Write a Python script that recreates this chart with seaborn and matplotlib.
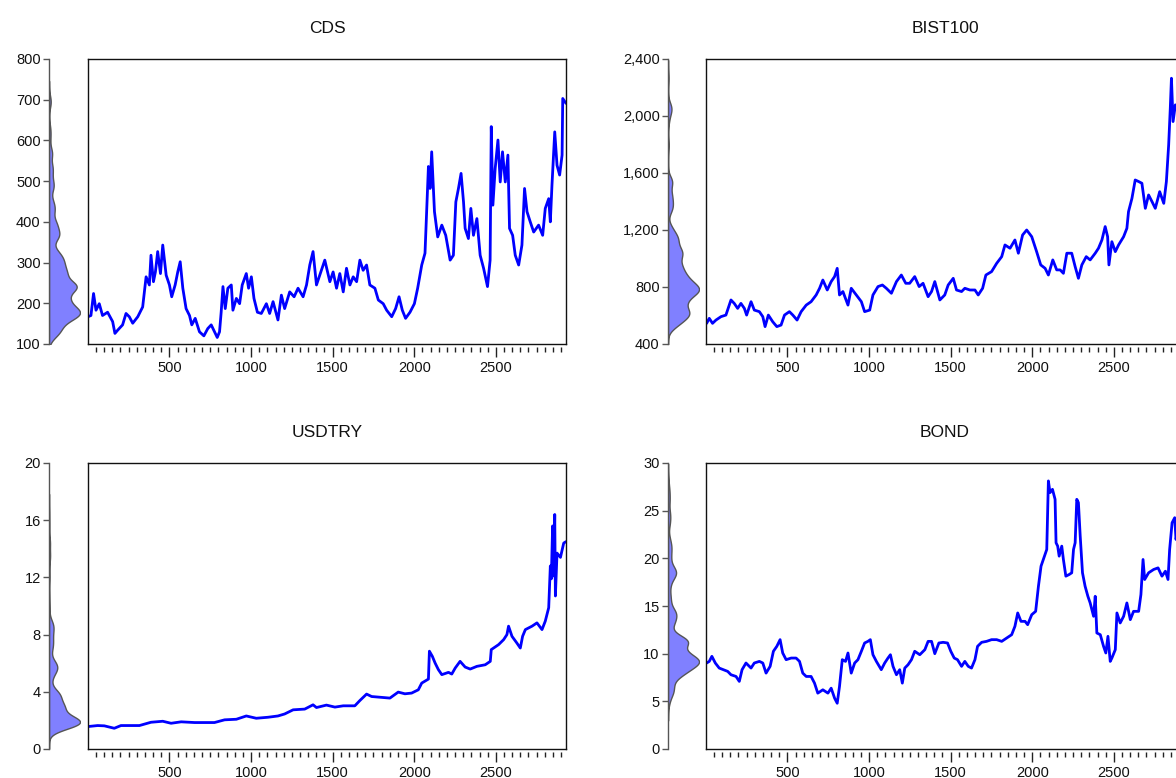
import numpy as np
import matplotlib
matplotlib.use("Agg")
import matplotlib.pyplot as plt
import seaborn as sns
from matplotlib.ticker import MultipleLocator, StrMethodFormatter

sns.set_theme(style="white")
plt.rcParams["font.family"] = ["Liberation Sans", "DejaVu Sans"]

# ---------------- data (observation index, value) ----------------
cds_obs = [1, 19, 35, 50, 70, 90, 121, 152, 166, 183, 213, 234, 254, 275, 306, 336, 357, 377, 387, 402,
           414, 428, 445, 459, 480, 500, 514, 535, 551, 566, 582, 602, 623, 637, 658, 684, 711, 735, 756, 776,
           793, 807, 817, 828, 842, 858, 879, 889, 910, 930, 946, 971, 985, 1002, 1018, 1039, 1063, 1094, 1114, 1135,
           1165, 1186, 1206, 1237, 1264, 1288, 1319, 1340, 1360, 1380, 1401, 1421,
           1452, 1483, 1503, 1524, 1544, 1565, 1585, 1606, 1626, 1647, 1667, 1687, 1708, 1728, 1759, 1780, 1810, 1831,
           1862, 1886, 1907, 1927, 1947, 1974, 2001, 2021, 2046, 2066, 2087, 2097, 2107, 2124, 2144, 2169, 2193, 2220,
           2240, 2255, 2271, 2287, 2302, 2312, 2332, 2347, 2363, 2384, 2404, 2425, 2449, 2465, 2472, 2482, 2496, 2513,
           2527, 2541, 2558, 2574, 2584, 2603, 2619, 2640, 2660, 2676, 2691, 2711, 2732, 2762, 2787, 2803, 2824, 2834,
           2844, 2861, 2875, 2891, 2906, 2910, 2930]
cds_val = [167, 170, 224, 183, 199, 170, 178, 155, 126, 134, 147, 175, 167, 151, 167, 191, 265, 245, 318, 253,
           277, 327, 273, 343, 269, 245, 216, 245, 277, 302, 237, 187, 170, 147, 163, 130, 120, 138, 147, 130,
           116, 130, 178, 241, 187, 237, 245, 183, 212, 199, 245, 273, 237, 265, 212, 178, 175, 199, 175, 204,
           159, 220, 187, 228, 216, 237, 216, 245, 294, 327, 245, 269,
           306, 253, 277, 237, 273, 228, 286, 245, 265, 253, 306, 281, 294, 245, 237, 208, 199, 183,
           167, 187, 216, 183, 163, 178, 199, 237, 294, 323, 536, 482, 572, 425, 363, 392, 367, 306,
           318, 449, 482, 519, 449, 384, 359, 433, 367, 408, 318, 286, 241, 306, 634, 441, 531, 601,
           498, 572, 498, 564, 384, 367, 318, 294, 343, 482, 425, 400, 375, 392, 367, 433, 457, 400,
           490, 621, 539, 515, 564, 703, 691]

bist_obs = [5, 21, 41, 62, 93, 123, 154, 174, 195, 215, 236, 250, 277, 297, 328, 349, 363, 383, 410, 435,
            461, 482, 512, 533, 559, 584, 615, 645, 676, 697, 717, 744, 768, 789, 805, 819, 840, 871, 891, 922,
            953, 973, 1004, 1024, 1055, 1082, 1106, 1137, 1168, 1198, 1225, 1249, 1280, 1307, 1331, 1362, 1383, 1403,
            1434, 1464, 1485, 1516, 1536, 1567, 1587, 1618, 1649, 1669, 1696, 1716, 1751, 1782, 1813, 1833, 1864,
            1894, 1915, 1941, 1966, 1997, 2027, 2052, 2079, 2099, 2126, 2150, 2171, 2191, 2212, 2242, 2263, 2283,
            2304, 2331, 2355, 2386, 2406, 2427, 2447, 2462, 2470, 2488, 2509, 2529, 2560, 2580, 2590, 2611, 2631,
            2652, 2672, 2693, 2713, 2734, 2754, 2781, 2806, 2822, 2836, 2846, 2853, 2863, 2877, 2895, 2910, 2930]
bist_val = [545, 580, 545, 568, 592, 603, 709, 685, 650, 685, 650, 603, 697, 638, 627, 592, 522, 603, 556, 522,
            533, 603, 627, 603, 568, 627, 673, 697, 744, 791, 849, 779, 838, 873, 931, 744, 768, 673, 791, 744,
            697, 627, 638, 744, 803, 814, 791, 756, 838, 884, 826, 826, 873, 803, 826, 732, 768, 838,
            709, 744, 814, 861, 779, 768, 791, 779, 779, 744, 791, 884, 908, 966, 1013, 1095, 1072,
            1130, 1037, 1165, 1200, 1153, 1048, 955, 931, 884, 990, 920, 920, 896, 1037, 1037, 943, 861,
            955, 1013, 990, 1037, 1072, 1130, 1224, 1153, 955, 1118, 1048, 1095, 1153, 1212, 1329, 1422, 1551,
            1540, 1528, 1352, 1446, 1399, 1352, 1469, 1387, 1540, 1797, 2055, 2265, 1961, 2078, 2010, 2060, 2040]

usd_obs = [1, 60, 101, 162, 203, 316, 387, 459, 510, 572, 654, 776, 838, 910, 971, 1032, 1104, 1165, 1206, 1258,
           1329, 1380, 1401, 1462, 1514, 1565, 1636, 1667, 1708, 1739, 1780, 1851, 1902, 1943, 1984, 2025, 2046, 2087,
           2093, 2111, 2128, 2148, 2169, 2210, 2230, 2251, 2281, 2312, 2343, 2384, 2435, 2466, 2472, 2517, 2548,
           2568, 2578, 2599, 2629, 2650, 2664, 2681, 2722, 2752, 2783, 2803, 2824, 2834, 2840, 2848, 2855, 2861,
           2865, 2875, 2896, 2916, 2930]
usd_val = [1.57, 1.64, 1.62, 1.45, 1.64, 1.64, 1.87, 1.94, 1.80, 1.90, 1.85, 1.85, 2.04, 2.08, 2.31, 2.15, 2.22,
           2.31, 2.45, 2.74, 2.79, 3.09, 2.90, 3.07, 2.93, 3.02, 3.02, 3.39, 3.84, 3.67, 3.63, 3.56, 3.98, 3.86,
           3.91, 4.14, 4.61, 4.89, 6.84, 6.48, 6.01, 5.55, 5.20, 5.36, 5.24, 5.66, 6.13, 5.73, 5.59, 5.78, 5.89,
           6.13, 6.95, 7.30, 7.65, 8.00, 8.59, 7.88, 7.41, 7.06, 7.88, 8.35, 8.59, 8.82, 8.35, 8.94, 9.88, 12.8,
           11.9, 15.6, 12.1, 16.4, 10.7, 13.7, 13.4, 14.4, 14.5]

bond_obs = [5, 21, 37, 58, 82, 107, 134, 154, 185, 205, 222, 246, 277, 297, 328, 349, 369, 394, 414, 435,
            455, 471, 492, 523, 553, 574, 594, 615, 645, 666, 686, 717, 748, 768, 789, 805, 819, 836, 856, 871,
            891, 912, 932, 953, 973, 993, 1008, 1024, 1045, 1075, 1096, 1116, 1131, 1147, 1168, 1188, 1204, 1219,
            1239, 1260, 1280, 1311, 1342, 1362, 1383, 1403, 1428, 1454, 1481, 1501, 1522, 1542, 1567, 1587, 1608,
            1628, 1649, 1665, 1690, 1720, 1751, 1782, 1813, 1843, 1874, 1894, 1911, 1931, 1956, 1972, 1997, 2021,
            2038, 2054, 2075, 2089, 2099, 2109, 2124, 2140, 2146, 2156, 2165, 2181, 2191, 2206, 2226, 2242, 2253,
            2263, 2273, 2283, 2294, 2308, 2324, 2341, 2355, 2376, 2386, 2396, 2417, 2437, 2451, 2464, 2478, 2488,
            2509, 2519, 2539, 2560, 2580, 2601, 2621, 2652, 2666, 2679, 2689, 2713, 2744, 2771, 2795, 2816, 2832,
            2842, 2857, 2873, 2881, 2895, 2910, 2930]
bond_val = [9.02, 9.19, 9.72, 9.02, 8.49, 8.32, 8.14, 7.79, 7.61, 7.09, 8.32, 9.02, 8.49, 9.02, 9.19, 9.02, 7.96,
            8.67, 10.25, 10.77, 11.47, 10.07, 9.37, 9.54, 9.54, 9.19, 7.96, 7.61, 7.61, 6.91, 5.86, 6.21, 5.86,
            6.38, 5.33, 4.80, 6.56, 9.37, 9.19, 10.07, 7.96, 9.02, 9.37, 10.25, 11.12, 11.29, 11.47, 9.89, 9.19,
            8.32, 9.02, 9.54, 9.89, 8.67, 7.79, 8.32, 6.91, 8.49, 8.84, 9.37, 10.25, 9.89, 10.42, 11.29, 11.29,
            10.0, 11.12, 11.19, 11.12, 10.25, 9.54, 9.37, 8.67, 9.19, 8.67, 8.49, 9.37, 10.77, 11.19, 11.29, 11.47,
            11.47, 11.29, 11.64, 11.99, 12.87, 14.27, 13.39, 13.39, 13.04, 14.09, 14.44, 17.07, 19.18, 20.23, 20.93,
            28.12, 26.89, 27.24, 26.19, 21.63, 21.28, 20.23, 21.28, 19.88, 18.13, 18.30, 18.48, 20.93, 21.63, 26.19,
            25.84, 22.33, 18.48, 17.07, 16.02, 15.32, 13.92, 16.02, 12.17, 11.99, 10.77, 10.07, 11.82, 9.19, 9.54,
            10.42, 14.27, 13.22, 13.92, 15.32, 13.57, 14.44, 14.44, 16.20, 19.88, 17.78, 18.48, 18.83, 19.00, 18.13,
            18.65, 17.78, 20.93, 23.73, 24.26, 21.98, 23.5, 25.0, 24.5]

titles = ["CDS", "BIST100", "USDTRY", "BOND"]
series_obs = [cds_obs, bist_obs, usd_obs, bond_obs]
series_val = [cds_val, bist_val, usd_val, bond_val]
y_limits = [(100, 800), (400, 2400), (0, 20), (0, 30)]
y_steps = [100, 400, 4, 5]

# ---------------- layout (pixels) ----------------
W, H = 1176, 778
main_boxes = [(88, 59, 478, 285), (706, 59, 478, 285), (88, 463, 478, 286), (706, 463, 478, 286)]
dens_left = [49, 668, 49, 668]
dens_width = 31

fig = plt.figure(figsize=(W / 100, H / 100), dpi=100)
fig.patch.set_facecolor("white")

for i in range(4):
    x0, y0, w, h = main_boxes[i]
    rect = [x0 / W, 1 - (y0 + h) / H, w / W, h / H]
    ax = fig.add_axes(rect)
    obs = np.array(series_obs[i], dtype=float)
    val = np.array(series_val[i], dtype=float)
    sns.lineplot(x=obs, y=val, ax=ax, color="#0000ff", linewidth=2.0, estimator=None, sort=False)
    ax.set_xlim(1, 2930)
    ax.set_ylim(*y_limits[i])
    ax.set_xlabel("")
    ax.set_ylabel("")
    ax.tick_params(bottom=False, left=False, labelbottom=False, labelleft=False)
    for s in ax.spines.values():
        s.set_visible(True)
        s.set_color("#111111")
        s.set_linewidth(1.0)
    ax.set_title(titles[i], fontsize=12.5, pad=19, color="#111111")

    sec = ax.secondary_xaxis(-3 / h)
    for s in sec.spines.values():
        s.set_visible(False)
    sec.set_xticks([500, 1000, 1500, 2000, 2500])
    sec.xaxis.set_minor_locator(MultipleLocator(50))
    sec.tick_params(which="both", bottom=True, direction="out", color="#222222", width=1.0)
    sec.tick_params(which="major", length=7, labelsize=10.5, pad=3, labelcolor="#111111")
    sec.tick_params(which="minor", length=3.5)

    # density panel
    drect = [dens_left[i] / W, 1 - (y0 + h) / H, dens_width / W, h / H]
    dax = fig.add_axes(drect)
    dax.patch.set_alpha(0)
    wts = np.gradient(obs)
    sns.kdeplot(y=val, weights=wts, ax=dax, fill=True, color="#8080ff", alpha=1.0,
                edgecolor="#555555", linewidth=1.0, bw_adjust=0.3, cut=3, gridsize=400)
    verts = np.concatenate([p.vertices for c in dax.collections for p in c.get_paths()])
    dax.set_xlim(0, verts[:, 0].max())
    dax.set_ylim(*y_limits[i])
    dax.set_xlabel("")
    dax.set_ylabel("")
    for side in ["top", "right", "bottom"]:
        dax.spines[side].set_visible(False)
    dax.spines["left"].set_color("#555555")
    dax.spines["left"].set_linewidth(1.0)
    dax.set_xticks([])
    lo, hi = y_limits[i]
    dax.set_yticks(np.arange(lo, hi + 1e-9, y_steps[i]))
    dax.yaxis.set_major_formatter(StrMethodFormatter("{x:,.0f}"))
    dax.tick_params(axis="y", left=True, direction="out", length=4, width=1.0, color="#555555",
                    labelsize=10.5, pad=2, labelcolor="#111111")

fig.savefig("out.png", dpi=100, facecolor="white")
